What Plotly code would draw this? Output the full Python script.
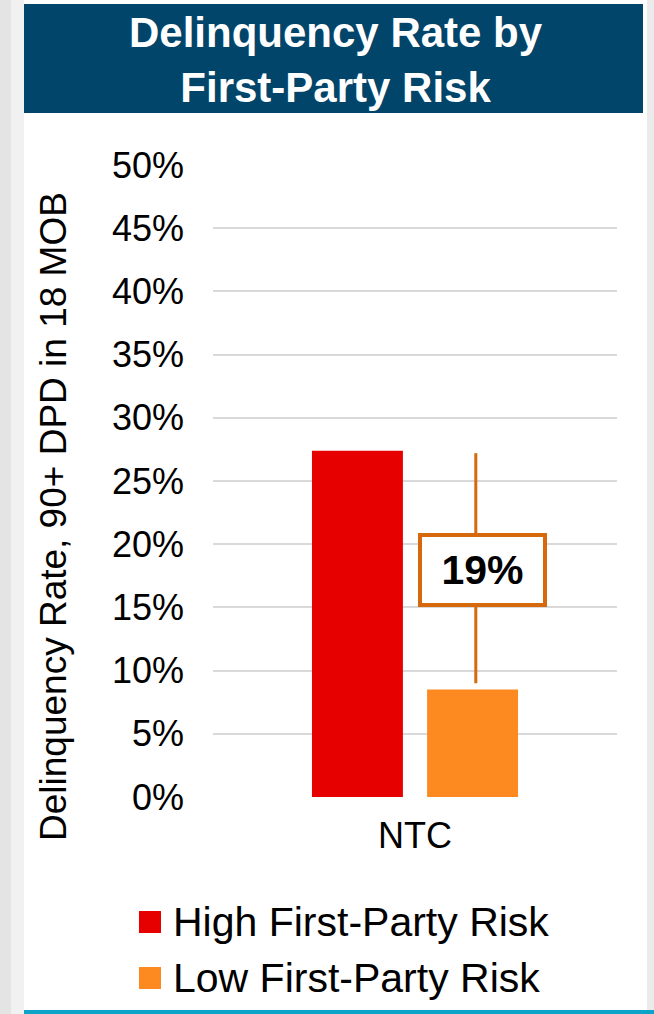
import plotly.graph_objects as go

# --- data -------------------------------------------------------------
categories = ["NTC"]
series_names = ["High First-Party Risk", "Low First-Party Risk"]
high_risk = [27.4]   # % delinquent, 90+ DPD in 18 MOB
low_risk = [8.5]
series_colors = ["#E60000", "#FD8A21"]
tick_values = [0, 5, 10, 15, 20, 25, 30, 35, 40, 45, 50]
tick_labels = [f"{v}%" for v in tick_values]

# --- page geometry ----------------------------------------------------
W, H = 654, 1014
ML, MR, MT, MB = 213, 37, 165, 217
PW, PH = W - ML - MR, H - MT - MB
FONT = "Liberation Sans, Arial, sans-serif"
BANNER = "#01456A"
ACCENT = "#D5690B"


def px_x(px):
    return (px - ML) / PW


def px_y(py):
    return (H - MB - py) / PH


fig = go.Figure()
for name, vals, col in zip(series_names, [high_risk, low_risk], series_colors):
    fig.add_trace(go.Bar(x=categories, y=vals, name=name, marker_color=col,
                         marker_line_width=0, showlegend=False))

bargap, bargroupgap = 0.43, 0.21
# centre of the second bar within the category slot
low_offset = (1 - bargap) / 4 + 0.008

shapes = [
    # grey page edges
    dict(type="rect", xref="paper", yref="paper", x0=px_x(0), x1=px_x(11),
         y0=px_y(H), y1=px_y(0), fillcolor="#E4E4E4", line_width=0, layer="below"),
    dict(type="rect", xref="paper", yref="paper", x0=px_x(11), x1=px_x(24),
         y0=px_y(H), y1=px_y(0), fillcolor="#F1F1F1", line_width=0, layer="below"),
    dict(type="rect", xref="paper", yref="paper", x0=px_x(647), x1=px_x(W),
         y0=px_y(H), y1=px_y(0), fillcolor="#EBEBEB", line_width=0, layer="below"),
    # title banner
    dict(type="rect", xref="paper", yref="paper", x0=px_x(24), x1=px_x(643),
         y0=px_y(113), y1=px_y(4), fillcolor=BANNER, line_width=0),
    # bottom accent rule
    dict(type="rect", xref="paper", yref="paper", x0=px_x(24), x1=px_x(W),
         y0=px_y(H), y1=px_y(1010), fillcolor="#0CA3C8", line_width=0),
    # difference bracket line
    dict(type="line", xref="x", yref="y", x0=low_offset, x1=low_offset,
         y0=low_risk[0] + 0.5, y1=high_risk[0] - 0.2,
         line=dict(color=ACCENT, width=3)),
]

annotations = [
    dict(text="<b>Delinquency Rate by<br>First-Party Risk</b>", xref="paper", yref="paper",
         x=px_x(336), y=px_y(60), showarrow=False, xanchor="center", yanchor="middle",
         font=dict(family=FONT, size=42, color="white")),
    dict(text="Delinquency Rate, 90+ DPD in 18 MOB", xref="paper", yref="paper",
         x=px_x(53), y=px_y(517), textangle=-90, showarrow=False,
         xanchor="center", yanchor="middle",
         font=dict(family=FONT, size=37, color="black")),
    dict(text=f"<b>{round(high_risk[0] - low_risk[0])}%</b>", xref="x", yref="y",
         x=low_offset, y=(high_risk[0] + low_risk[0]) / 2, xshift=7, showarrow=False,
         width=117, height=62, borderpad=2, borderwidth=4, bordercolor=ACCENT,
         bgcolor="white", font=dict(family=FONT, size=41, color="black")),
]

# legend drawn as swatches + labels
legend_rows = [922, 978]
for name, col, cy in zip(series_names, series_colors, legend_rows):
    shapes.append(dict(type="rect", xref="paper", yref="paper",
                       x0=px_x(139), x1=px_x(161), y0=px_y(cy + 11), y1=px_y(cy - 11),
                       fillcolor=col, line_width=0))
    annotations.append(dict(text=name, xref="paper", yref="paper", x=px_x(171),
                            y=px_y(cy), xanchor="left", yanchor="middle", showarrow=False,
                            font=dict(family=FONT, size=41, color="black")))

fig.update_layout(
    width=W, height=H,
    margin=dict(l=ML, r=MR, t=MT, b=MB, pad=0),
    paper_bgcolor="white", plot_bgcolor="white",
    barmode="group", bargap=bargap, bargroupgap=bargroupgap,
    shapes=shapes, annotations=annotations,
    showlegend=False,
    xaxis=dict(type="category", range=[-0.5, 0.5], showgrid=False, zeroline=False,
               showline=False, ticks="", ticklabelstandoff=14,
               tickfont=dict(family=FONT, size=36, color="black")),
    yaxis=dict(range=[0, 50], tickvals=tick_values, ticktext=tick_labels,
               showgrid=True, gridcolor="#D9D9D9", gridwidth=2, zeroline=False,
               showline=False, ticks="", ticklabelstandoff=28,
               tickfont=dict(family=FONT, size=36, color="black")),
)

fig.write_html("out.html")
